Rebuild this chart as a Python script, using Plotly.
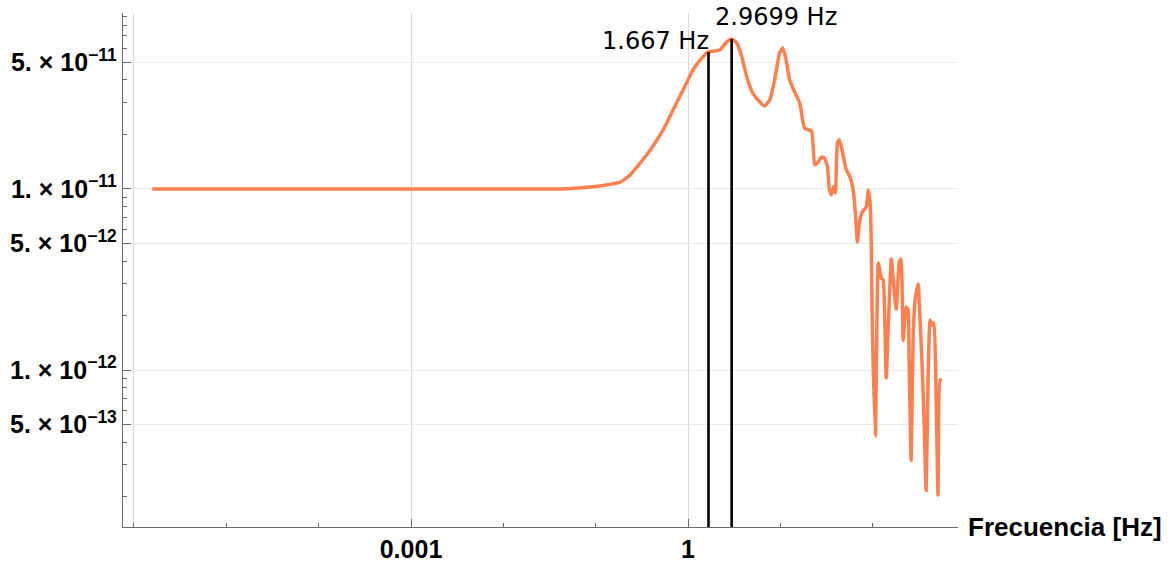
import numpy as np
import plotly.graph_objects as go

# ---- data ----
freq_hz = [1.58e-6, 1e-5, 1e-4, 1e-3, 0.01, 0.042, 0.088, 0.12, 0.185, 0.235, 0.303, 0.37,
           0.463, 0.56, 0.689, 0.78, 0.883, 1.0, 1.13, 1.28, 1.45, 1.55, 1.64, 1.95, 2.21,
           2.63, 2.97, 3.38, 3.83, 4.33, 5.02, 5.98, 6.77,
           7.67, 8.68, 9.83, 10.6, 11.4, 12.6, 14.3, 16.2, 18.3, 21.8, 23.5, 25.3, 27.9,
           30.1, 32.4, 34.0, 35.8, 37.6, 39.5, 41.5, 43.6, 47.0, 51.9, 55.9, 60.3, 63.3,
           66.5, 68.2, 71.7, 77.2, 85.3, 89.6, 94.2, 96.6, 99.0, 107, 115, 124, 130, 140,
           147, 159, 171, 180, 194, 203, 214, 230, 242, 248, 261, 274, 288, 310, 326,
           343, 360, 379, 398, 418, 439, 462, 485, 510, 536, 563]
psd = [1.0e-11, 1.0e-11, 1.0e-11, 1.0e-11, 1.0e-11, 1.0e-11, 1.026e-11, 1.045e-11, 1.09e-11,
       1.19e-11, 1.39e-11, 1.58e-11, 1.87e-11, 2.2e-11, 2.73e-11, 3.1e-11, 3.52e-11, 4.0e-11,
       4.54e-11, 4.97e-11, 5.36e-11, 5.57e-11, 5.71e-11, 5.78e-11, 5.86e-11,
       6.49e-11, 6.74e-11, 6.41e-11, 5.36e-11, 4.16e-11, 3.39e-11, 3.03e-11, 2.87e-11,
       3.10e-11, 4.00e-11, 5.64e-11, 6.01e-11, 5.36e-11, 4.00e-11, 3.43e-11, 2.99e-11,
       2.17e-11, 2.09e-11, 1.36e-11, 1.39e-11, 1.50e-11, 1.48e-11, 1.32e-11, 9.87e-12,
       9.27e-12, 1.03e-11, 9.50e-12, 1.80e-11, 1.87e-11, 1.60e-11, 1.27e-11, 1.19e-11,
       1.04e-11, 8.69e-12, 6.16e-12, 5.09e-12, 6.49e-12, 7.46e-12, 7.96e-12, 9.87e-12,
       8.16e-12, 4.91e-12, 1.82e-12, 4.32e-13, 3.90e-12, 3.22e-12, 3.14e-12, 9.03e-13,
       1.66e-12, 4.10e-12, 2.77e-12, 2.17e-12, 3.95e-12, 4.10e-12, 1.46e-12, 2.23e-12,
       2.14e-12, 1.14e-12, 3.18e-13, 1.46e-12, 2.44e-12, 2.99e-12, 1.89e-12, 1.07e-12,
       5.30e-13, 2.17e-13, 8.80e-13, 1.89e-12, 1.77e-12, 1.82e-12, 7.76e-13, 2.04e-13,
       8.80e-13, 8.80e-13]

marker_freqs = [1.667, 2.9699]
marker_psd = [5.71e-11, 6.74e-11]
marker_labels = ["1.667 Hz", "2.9699 Hz"]

x_tickvals = [1e-6, 1e-3, 1]
x_ticktext = ["", "0.001", "1"]
y_tickvals = [5e-13, 1e-12, 5e-12, 1e-11, 5e-11]
y_ticktext = ["5. × 10<sup>−13</sup>", "1. × 10<sup>−12</sup>", "5. × 10<sup>−12</sup>",
              "1. × 10<sup>−11</sup>", "5. × 10<sup>−11</sup>"]

x_range = [-6.119, 2.924]
y_range = [-12.867, -10.028]

# minor ticks
x_minor = [10.0 ** k for k in range(-6, 3)]
y_minor = [m * 10.0 ** e for e in (-13, -12, -11, -10) for m in range(2, 10)]

LINE_COLOR = "rgb(255,128,78)"
AXIS_COLOR = "#6b6b6b"
FONT_FAMILY = "Liberation Sans, Arial, sans-serif"
XTICK_FONT = dict(family=FONT_FAMILY, size=25, color="black")
YTICK_FONT = dict(family=FONT_FAMILY, size=25, color="black")

fig = go.Figure()

fig.add_trace(go.Scatter(x=freq_hz, y=psd, mode="lines",
                         line=dict(color=LINE_COLOR, width=3.5, shape="spline", smoothing=0.4),
                         showlegend=False, hoverinfo="skip"))

y_bottom = 10 ** y_range[0]
for f, p in zip(marker_freqs, marker_psd):
    fig.add_trace(go.Scatter(x=[f, f], y=[y_bottom, p], mode="lines",
                             line=dict(color="black", width=2.6), showlegend=False,
                             hoverinfo="skip"))

fig.add_annotation(x=np.log10(marker_freqs[0]), y=np.log10(marker_psd[0]),
                   xref="x", yref="y", text=marker_labels[0], showarrow=False,
                   xanchor="right", yanchor="bottom", xshift=2, yshift=-5,
                   font=dict(family="DejaVu Sans", size=24, color="black"))
fig.add_annotation(x=np.log10(marker_freqs[1]), y=np.log10(marker_psd[1]),
                   xref="x", yref="y", text=marker_labels[1], showarrow=False,
                   xanchor="left", yanchor="bottom", xshift=-19, yshift=6,
                   font=dict(family="DejaVu Sans", size=24, color="black"))

fig.add_annotation(x=1, y=0, xref="paper", yref="paper", text="<b>Frecuencia [Hz]</b>",
                   showarrow=False, xanchor="left", yanchor="middle", xshift=8,
                   font=dict(family=FONT_FAMILY, size=26, color="black"))

fig.update_xaxes(type="log", range=x_range, tickmode="array", tickvals=x_tickvals,
                 ticktext=[f"<b>{t}</b>" if t else "" for t in x_ticktext],
                 tickfont=XTICK_FONT, ticks="inside", ticklen=8, tickwidth=1.2,
                 tickcolor=AXIS_COLOR, showline=True, linecolor=AXIS_COLOR, linewidth=1.3,
                 showgrid=True, gridcolor="#d9d9d9", gridwidth=1, zeroline=False,
                 ticklabelstandoff=0, automargin=False,
                 minor=dict(tickmode="array", tickvals=x_minor, ticks="inside", ticklen=4,
                            tickcolor=AXIS_COLOR, showgrid=False))
fig.update_yaxes(type="log", range=y_range, tickmode="array", tickvals=y_tickvals,
                 ticktext=[f"<b>{t}</b>" for t in y_ticktext],
                 tickfont=YTICK_FONT, ticks="inside", ticklen=8, tickwidth=1.2,
                 tickcolor=AXIS_COLOR, showline=True, linecolor=AXIS_COLOR, linewidth=1.3,
                 showgrid=True, gridcolor="#ececec", gridwidth=1, zeroline=False,
                 automargin=False,
                 minor=dict(tickmode="array", tickvals=y_minor, ticks="inside", ticklen=4,
                            tickcolor=AXIS_COLOR, showgrid=False))

fig.update_layout(width=1171, height=565, margin=dict(l=123, r=213, t=13, b=38),
                  plot_bgcolor="white", paper_bgcolor="white", showlegend=False)

fig.write_html("out.html")
